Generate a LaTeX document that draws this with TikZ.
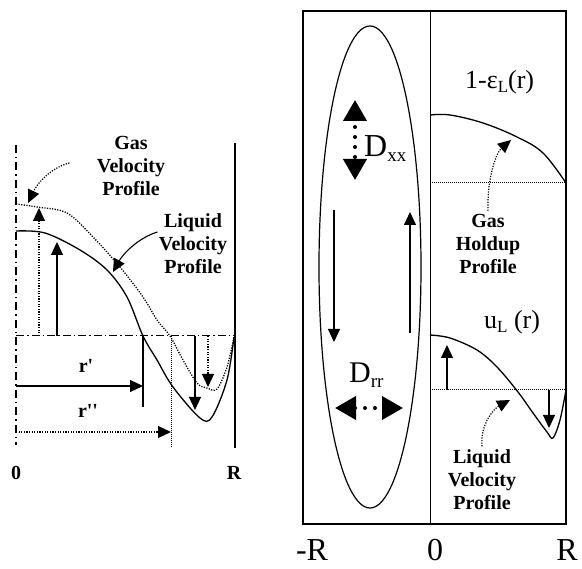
\documentclass[tikz,border=0pt]{standalone}
\usepackage{fontspec}
\setmainfont{Liberation Serif}
\usetikzlibrary{arrows.meta, calc}

\begin{document}
\begin{tikzpicture}[
    x=1pt, y=-1pt,
    >={Triangle[length=13pt, width=12pt]},
    % Line styles
    solidcurve/.style={line width=1.3pt},
    dotcurve/.style={line width=1.3pt, dash pattern=on 1.2pt off 1.4pt},
    thinarrow/.style={->, line width=1.1pt},
    dotarrow/.style={->, line width=1.2pt, dash pattern=on 1.2pt off 1.4pt},
    axisline/.style={line width=1.8pt, dash pattern=on 8pt off 4pt on 1.5pt off 4pt},
    midline/.style={line width=1pt, dash pattern=on 8pt off 3pt on 1.5pt off 3pt},
    baseline/.style={line width=1pt, dash pattern=on 1pt off 1pt},
    bigtips/.style={line width=4pt, line cap=round, dash pattern=on 0pt off 10pt,
        {Triangle[length=21pt, width=23pt]}-{Triangle[length=21pt, width=23pt]}},
    % Text styles
    boldlabel/.style={font=\fontsize{20}{23}\selectfont\bfseries, align=center},
    axislabel/.style={font=\fontsize{32}{34}\selectfont, anchor=base, inner sep=0pt},
    funclabel/.style={font=\fontsize{26}{28}\selectfont, anchor=base west, inner sep=0pt},
    dlabel/.style={font=\fontsize{32}{34}\selectfont, anchor=base west, inner sep=0pt},
]
\useasboundingbox (0,0) rectangle (582,569);

% ===== LEFT PANEL: RADIAL PROFILES =====
\draw[axisline] (16,145) -- (16,445);
\draw[line width=2.5pt] (235,143) -- (235,448);
\draw[midline] (16,336) -- (235,336);

% Liquid velocity profile
\draw[solidcurve] plot[smooth, tension=0.55] coordinates {(16,231) (45,233) (80,250) (107,270) (127,297) (143,336) (157,360) (173,387) (200,418) (212,417) (227,380) (234,337)};
% Gas velocity profile
\draw[dotcurve] plot[smooth, tension=0.55] coordinates {(16,204) (37,207) (67,213) (93,237) (120,267) (143,297) (157,320) (170,336) (183,360) (197,383) (207,388) (217,389) (227,367) (234,337)};

% Velocity arrows
\draw[dotarrow] (39,336) -- (39,208);
\draw[thinarrow] (57,336) -- (57,242);
\draw[thinarrow] (195,336) -- (195,410);
\draw[dotarrow] (208,336) -- (208,387);

% Radial positions
\draw[line width=1.1pt] (143,336) -- (143,407);
\draw[thinarrow] (16,386) -- (143,386);
\draw[baseline] (171,336) -- (171,447);
\draw[dotarrow] (16,432) -- (171,432);
\node[boldlabel] (rone) at (86,366) {r\textquotesingle};
\node[boldlabel] (rtwo) at (88,411) {r\textquotesingle\textquotesingle};

\node[boldlabel] (zeroL) at (16,473) {0};
\node[boldlabel] (radL) at (234,473) {R};

% Profile labels
\node[boldlabel] (gasvel) at (131,166) {Gas\\Velocity\\Profile};
\node[boldlabel] (liqvel) at (193,244) {Liquid\\Velocity\\Profile};
\coordinate (gastip) at (28,203);
\coordinate (liqtip) at (113,272);
\draw[dotarrow] ([xshift=-24pt, yshift=3pt]gasvel.west) .. controls (50,168) and (37,184) .. (gastip);
\draw[thinarrow] ([xshift=2pt, yshift=12pt]liqvel.west) .. controls (138,238) and (123,254) .. (liqtip);

% ===== RIGHT PANEL: COLUMN =====
\draw[line width=1.3pt] (303,11) rectangle (566,524);
\draw[line width=1pt] (430,11) -- (430,524);
\draw[line width=1.2pt] (370,267) ellipse [x radius=51, y radius=241];

% Dispersion arrows
\draw[bigtips, dash phase=3pt] (355,100) -- (355,180);
\node[dlabel] (dxx) at (364,157) {D\raisebox{-5pt}{\fontsize{19}{19}\selectfont xx}};
\draw[thinarrow] (334,210) -- (334,342);
\draw[thinarrow] (410,333) -- (410,212);
\node[dlabel, font=\fontsize{30}{32}\selectfont] (drr) at (349,383) {D\raisebox{-5pt}{\fontsize{19}{19}\selectfont rr}};
\draw[bigtips] (335,408) -- (403,408);

% Gas holdup profile
\node[funclabel] (holdfun) at (465,89) {1-ε\raisebox{-4pt}{\fontsize{17}{17}\selectfont L}(r)};
\draw[solidcurve] plot[smooth, tension=0.6] coordinates {(430,115) (450,115) (483,123) (517,137) (543,153) (566,183)};
\draw[baseline] (430,183) -- (566,183);
\node[boldlabel] (holdup) at (488,244) {Gas\\Holdup\\Profile};
\coordinate (holdtip) at (511,140);
\draw[dotarrow] (holdup.north) .. controls (487,176) and (497,152) .. (holdtip);

% Liquid velocity profile
\node[funclabel] (velfun) at (484,329) {u\raisebox{-4pt}{\fontsize{17}{17}\selectfont L} (r)};
\draw[solidcurve] plot[smooth, tension=0.55] coordinates {(430,335) (450,338) (477,350) (497,367) (518,392) (533,413) (547,432) (553,438) (560,420) (566,390)};
\draw[baseline] (430,390) -- (566,390);
\draw[thinarrow] (447,390) -- (447,345);
\draw[thinarrow] (549,390) -- (549,428);
\node[boldlabel] (liqright) at (482,480) {Liquid\\Velocity\\Profile};
\coordinate (velTip) at (510,400);
\draw[dotarrow] (liqright.north) .. controls (480,423) and (495,408) .. (velTip);

% ===== AXIS LABELS =====
\node[axislabel] (negR) at (312,561) {-R};
\node[axislabel] (zeroR) at (435,561) {0};
\node[axislabel] (posR) at (567,561) {R};

\end{tikzpicture}
\end{document}
